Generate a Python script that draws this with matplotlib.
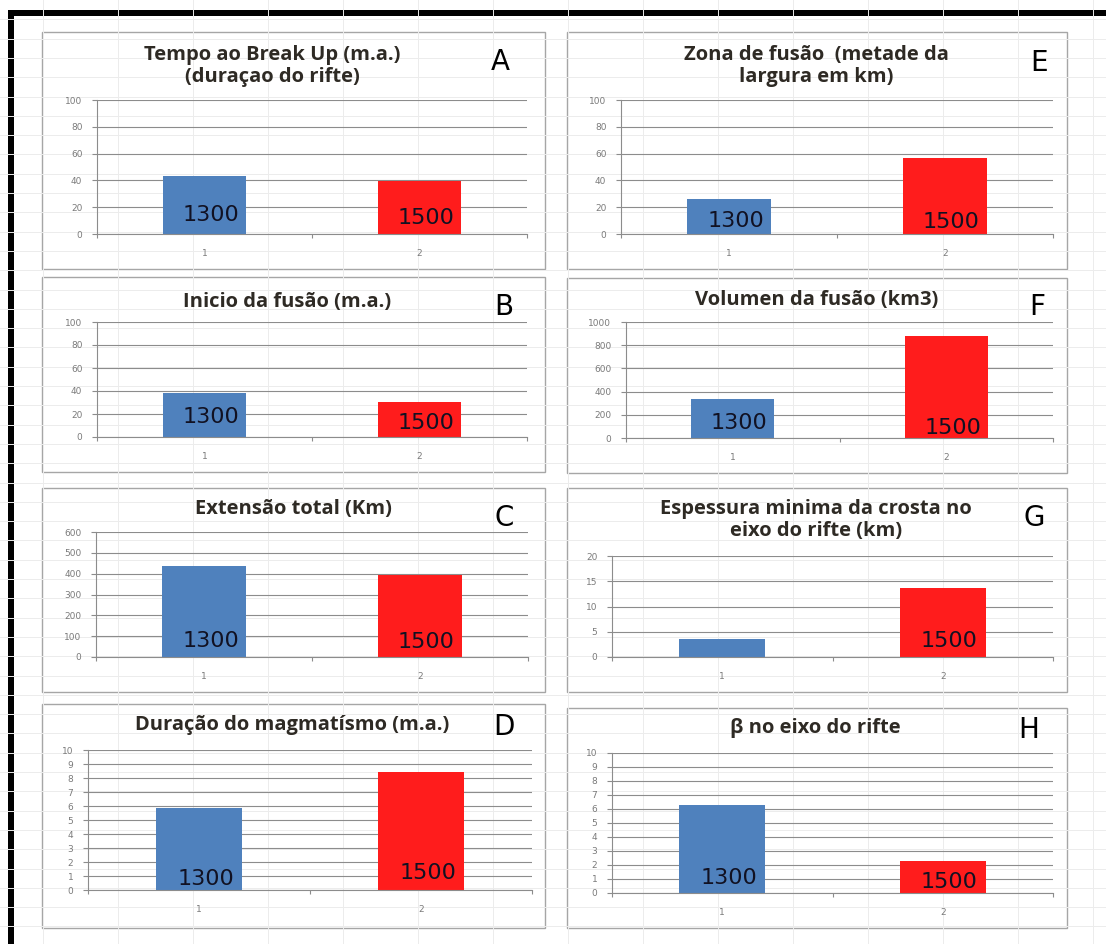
import matplotlib
matplotlib.use("Agg")
import matplotlib.pyplot as plt
from matplotlib.patches import Rectangle
import numpy as np

# dados (1300 = azul, 1500 = vermelho)
titulos = ["Tempo ao Break Up (m.a.)\n(duraçao do rifte)",
           "Inicio da fusão (m.a.)",
           "Extensão total (Km)",
           "Duração do magmatísmo (m.a.)",
           "Zona de fusão  (metade da\nlargura em km)",
           "Volumen da fusão (km3)",
           "Espessura minima da crosta no\neixo do rifte (km)",
           "β no eixo do rifte"]
letras = ["A", "B", "C", "D", "E", "F", "G", "H"]
categorias = ["1", "2"]
series = ["1300", "1500"]
v1300 = [43.5, 38, 437, 5.85, 26, 340, 3.6, 6.3]
v1500 = [39.5, 30, 392, 8.4, 57, 880, 13.6, 2.3]
ymax = [100, 100, 600, 10, 100, 1000, 20, 10]
ypasso = [20, 20, 100, 1, 20, 200, 5, 1]
mostra_rotulo = [[True, True]] * 6 + [[False, True]] + [[True, True]]

# layout em pixels (esq, topo, dir, base)
W, H = 1106, 944
caixas = [(42, 32, 545, 269), (42, 277, 545, 472), (42, 488, 545, 692), (42, 704, 545, 928),
          (567, 32, 1067, 269), (567, 278, 1067, 473), (567, 488, 1067, 692), (567, 708, 1067, 928)]
eixos = [(97, 100, 527, 234), (97, 322, 527, 437), (96, 532, 528, 657), (88, 750, 532, 890),
         (621, 100, 1053, 234), (626, 322, 1053, 438), (612, 556, 1053, 657), (612, 753, 1053, 893)]
pos_titulo = [(272, 66), (287, 302), (293, 509), (292, 725),
              (816, 66), (817, 300), (816, 520), (815, 728)]
pos_letra = [(500, 62), (504, 307), (504, 518), (504, 727),
             (1039, 63), (1037, 307), (1034, 518), (1029, 730)]
rotulo_y = [(0.14, 0.12), (0.17, 0.12), (0.13, 0.12), (0.08, 0.12),
            (0.10, 0.09), (0.13, 0.09), (0.16, 0.16), (0.11, 0.08)]

azul = "#4f81bd"
vermelho = "#ff1c1c"
cinza = "#8c8c8c"

fig = plt.figure(figsize=(W / 100, H / 100), dpi=100)

# fundo: planilha do excel + moldura preta
fundo = fig.add_axes([0, 0, 1, 1])
fundo.set_xlim(0, W)
fundo.set_ylim(H, 0)
fundo.axis("off")
for x in np.arange(43, W, 75):
    fundo.axvline(x, color="#ececec", lw=0.7)
for y in np.arange(19.3, H, 19.3):
    fundo.axhline(y, color="#ececec", lw=0.7)
for (l, t, r, b) in caixas:
    fundo.add_patch(Rectangle((l, t), r - l, b - t, facecolor="white", edgecolor="#a6a6a6", lw=1.0))
fundo.add_patch(Rectangle((8, 10), W, 6, facecolor="black", edgecolor="none"))
fundo.add_patch(Rectangle((8, 10), 6, H, facecolor="black", edgecolor="none"))

for i in range(8):
    l, t, r, b = eixos[i]
    ax = fig.add_axes([l / W, 1 - b / H, (r - l) / W, (b - t) / H])
    ax.set_facecolor("none")
    ax.bar([0, 1], [v1300[i], v1500[i]], width=0.39, color=[azul, vermelho], zorder=2)
    ax.set_xlim(-0.5, 1.5)
    ax.set_ylim(0, ymax[i])
    ax.set_yticks(np.arange(0, ymax[i] + ypasso[i], ypasso[i]))
    ax.set_xticks([0, 1])
    ax.set_xticklabels(categorias)
    ax.set_xticks([-0.5, 0.5, 1.5], minor=True)
    ax.yaxis.grid(True, color=cinza, lw=0.8)
    ax.set_axisbelow(True)
    for s in ["top", "right"]:
        ax.spines[s].set_visible(False)
    for s in ["left", "bottom"]:
        ax.spines[s].set_color(cinza)
        ax.spines[s].set_linewidth(0.8)
    ax.tick_params(axis="y", length=3.5, width=0.8, color=cinza, labelsize=6.5,
                   labelcolor="#7a7a7a", pad=7)
    ax.tick_params(axis="x", which="major", length=0, pad=11, labelsize=6.5, labelcolor="#7a7a7a")
    ax.tick_params(axis="x", which="minor", length=3, width=0.8, color=cinza)

    for j in range(2):
        if mostra_rotulo[i][j]:
            ax.text(j + 0.03, rotulo_y[i][j], series[j], transform=ax.get_xaxis_transform(),
                    ha="center", va="center", fontsize=16, color="#111122", zorder=3)

    tx, ty = pos_titulo[i]
    fig.text(tx / W, 1 - ty / H, titulos[i], ha="center", va="center", multialignment="center",
             fontsize=14.5, fontweight="bold", family="Open Sans", color="#2e2a24", linespacing=1.12)
    lx, ly = pos_letra[i]
    fig.text(lx / W, 1 - ly / H, letras[i], ha="center", va="center", fontsize=20, color="black")

fig.savefig("out.png", dpi=100)
